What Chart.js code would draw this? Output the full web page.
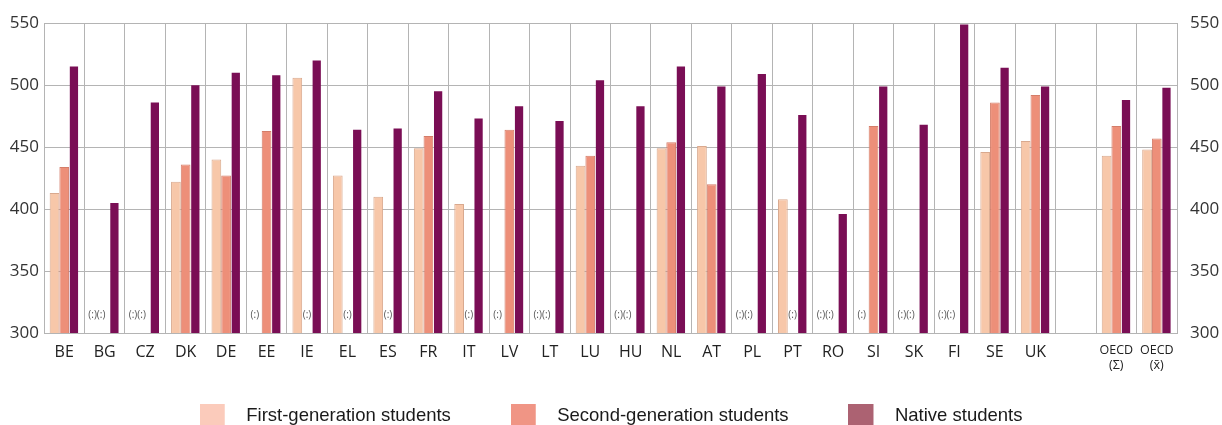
<!DOCTYPE html>
<html><head><meta charset="utf-8">
<script src="https://cdn.jsdelivr.net/npm/chart.js@4.4.1/dist/chart.umd.min.js"></script>
<style>html,body{margin:0;padding:0;background:#fff;overflow:hidden;width:1222px;height:425px}canvas{display:block}</style>
</head><body>
<canvas id="c" width="1222" height="435"></canvas>
<script>
const categories = ["BE","BG","CZ","DK","DE","EE","IE","EL","ES","FR","IT","LV","LT","LU","HU","NL","AT","PL","PT","RO","SI","SK","FI","SE","UK","",["OECD","(Σ)"],["OECD","(x̄)"]];
const firstGen  = [413,null,null,422,440,null,506,427,410,449,404,null,null,435,null,449,451,null,408,null,null,null,null,446,455,null,443,448];
const secondGen = [434,null,null,436,427,463,null,null,null,459,null,464,null,443,null,454,420,null,null,null,467,null,null,486,492,null,467,457];
const nativeSt  = [515,405,486,500,510,508,520,464,465,495,473,483,471,504,483,515,499,509,476,396,499,468,549,514,499,null,488,498];
const yTickValues = [300,350,400,450,500,550];
const seriesNames = ["First-generation students","Second-generation students","Native students"];
const naText = "(:)";

const barColors = ["#f7c7a9","#ed8f79","#7a0e55"];
const barBorders = ["#d9a98e","#d47d69","#6a0a4a"];
const legendColors = ["#fbcbbb","#f09585","#ac6272"];
const gridColor = "#b4b4b4";
const legendTextColor = "#1a1a1a";

function swatch(color){
  const c = document.createElement('canvas');
  c.width = 37; c.height = 23;
  const g = c.getContext('2d');
  g.fillStyle = color; g.fillRect(0,0,25,23);
  return c;
}
const swatches = legendColors.map(swatch);

const naPlugin = {
  id: 'naLabels',
  afterDatasetsDraw(chart){
    const ctx = chart.ctx;
    const m0 = chart.getDatasetMeta(0), m1 = chart.getDatasetMeta(1);
    const y = chart.scales.y.getPixelForValue(300) - 18;
    ctx.save();
    ctx.font = "10px 'Open Sans'";
    ctx.fillStyle = "#555";
    ctx.textAlign = "center";
    ctx.textBaseline = "middle";
    categories.forEach((cat, i) => {
      if (cat === "") return;
      const a = firstGen[i] === null, b = secondGen[i] === null;
      const c1 = m0.data[i].x, c2 = m1.data[i].x;
      if (a && b) ctx.fillText(naText + naText, (c1 + c2) / 2 - 3, y);
      else if (a) ctx.fillText(naText, c1 - 2, y);
      else if (b) ctx.fillText(naText, c2, y);
    });
    ctx.restore();
  }
};

const tickLabelColor = "#222";
new Chart(document.getElementById('c'), {
  type: 'bar',
  data: {
    labels: categories,
    datasets: [
      {label: seriesNames[0], data: firstGen, backgroundColor: barColors[0], borderColor: barBorders[0], borderWidth: 1, barPercentage: 1.0, yAxisID: 'y'},
      {label: seriesNames[1], data: secondGen, backgroundColor: barColors[1], borderColor: barBorders[1], borderWidth: 1, barPercentage: 1.0, yAxisID: 'y'},
      {label: seriesNames[2], data: nativeSt, backgroundColor: barColors[2], borderColor: barBorders[2], borderWidth: 0, barPercentage: 0.85, yAxisID: 'y'}
    ]
  },
  options: {
    responsive: false,
    animation: false,
    devicePixelRatio: 1,
    layout: {padding: {top: 21, left: 0, right: 0, bottom: 0}},
    datasets: {bar: {categoryPercentage: 0.72}},
    plugins: {
      tooltip: {enabled: false},
      legend: {
        position: 'bottom',
        align: 'center',
        title: {display: true, text: '', font: {size: 1}, padding: {top: -44.35, bottom: 0}},
        labels: {
          usePointStyle: true,
          pointStyleWidth: 37.45,
          padding: 59.65,
          color: legendTextColor,
          font: {family: "'Liberation Sans', Arial, sans-serif", size: 18.5},
          generateLabels: (chart) => seriesNames.map((n, i) => ({
            text: n, fillStyle: legendColors[i], strokeStyle: legendColors[i], lineWidth: 0,
            fontColor: legendTextColor,
            pointStyle: swatches[i], datasetIndex: i, hidden: false
          }))
        }
      }
    },
    scales: {
      x: {
        grid: {display: true, offset: true, color: gridColor, drawTicks: false, lineWidth: 1},
        border: {display: true, color: gridColor},
        ticks: {
          autoSkip: false, maxRotation: 0, padding: 10, color: tickLabelColor,
          font: (ctx) => (ctx.index >= 26 ? {family: "'Open Sans'", size: 12.5, lineHeight: 1.2} : {family: "'Open Sans'", size: 16})
        },
        afterFit: (s) => { s.height = 57; }
      },
      y: {
        position: 'left', min: 300, max: 550,
        grid: {color: gridColor, drawTicks: false},
        border: {display: true, color: gridColor},
        ticks: {stepSize: 50, padding: 5, color: "#333", font: {family: "'Open Sans'", size: 17},
          callback: (v) => yTickValues.includes(v) ? String(v) : null},
        afterFit: (s) => { s.width = 44; }
      },
      y2: {
        position: 'right', min: 300, max: 550,
        grid: {display: false, drawTicks: false},
        border: {display: true, color: gridColor},
        ticks: {stepSize: 50, padding: 13, color: "#333", font: {family: "'Open Sans'", size: 17},
          callback: (v) => yTickValues.includes(v) ? String(v) : null},
        afterFit: (s) => { s.width = 45; }
      }
    }
  },
  plugins: [naPlugin]
});
</script>
</body></html>
